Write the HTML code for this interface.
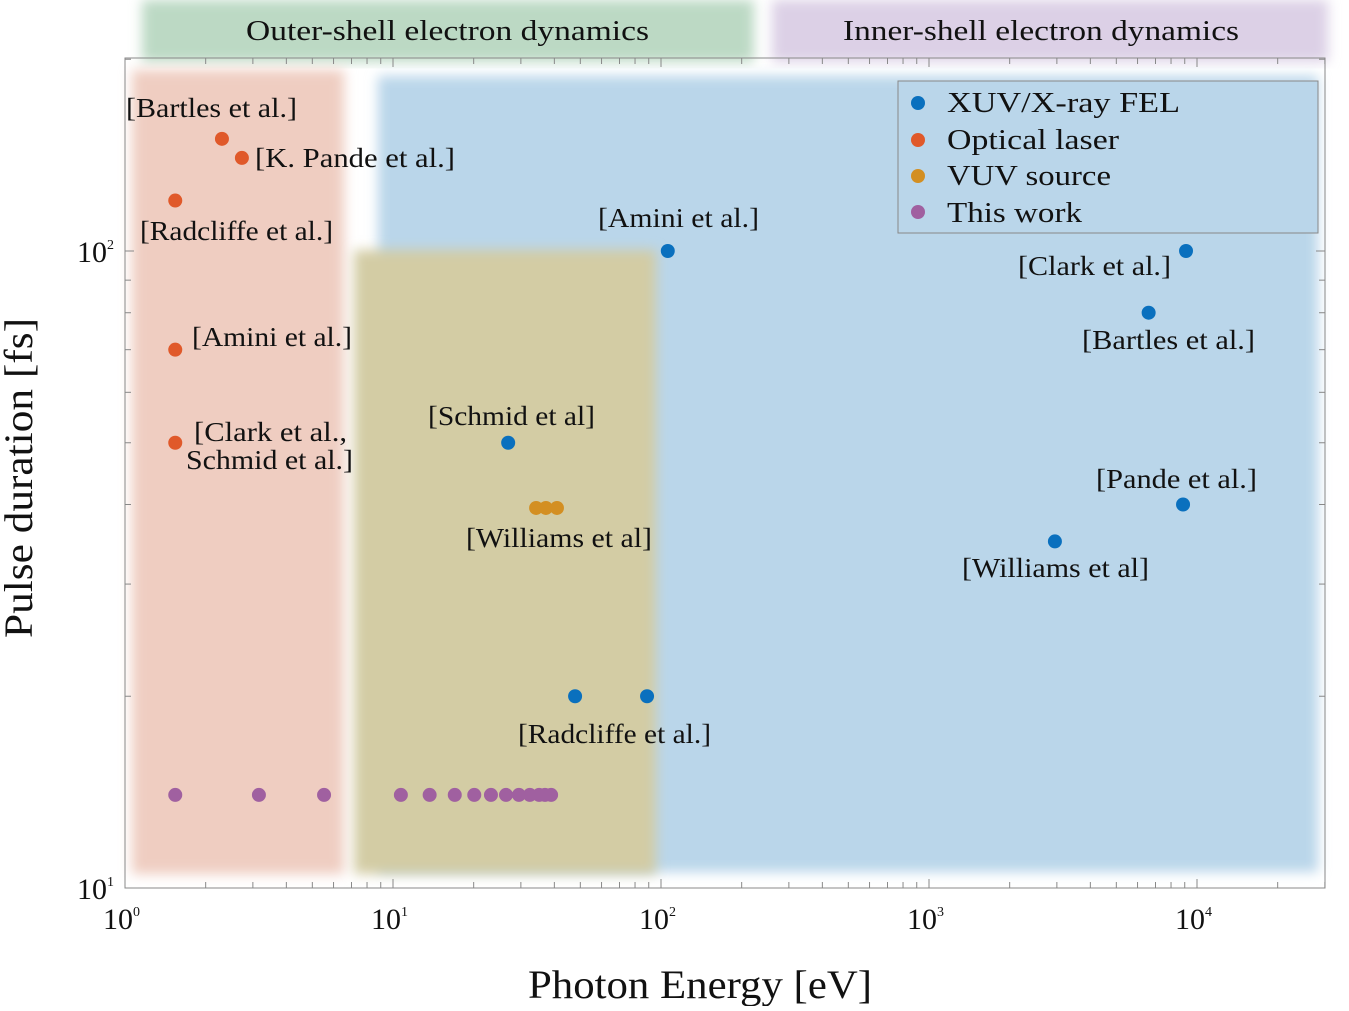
<!DOCTYPE html>
<html><head><meta charset="utf-8"><style>
body{margin:0;background:#fff;}
svg text{font-family:"Liberation Serif",serif;fill:#111;}
</style></head><body>
<svg id="chart" width="1349" height="1006" viewBox="0 0 1349 1006" xmlns="http://www.w3.org/2000/svg">
<defs>
<filter id="blur" x="-10%" y="-10%" width="120%" height="120%"><feGaussianBlur stdDeviation="6"/></filter>
</defs>
<g>
<rect x="142" y="0" width="612" height="62" fill="#bcd9c4" filter="url(#blur)"/>
<rect x="772" y="0" width="556" height="62" fill="#dcd0e6" filter="url(#blur)"/>
<text x="246" y="40" font-size="28" textLength="403" lengthAdjust="spacingAndGlyphs">Outer-shell electron dynamics</text>
<text x="843" y="40" font-size="28" textLength="396" lengthAdjust="spacingAndGlyphs">Inner-shell electron dynamics</text>
</g>
<g id="regions">
<rect x="378" y="76" width="940" height="796" fill="#bad6ea" filter="url(#blur)"/>
<rect x="132" y="70" width="212" height="804" fill="#efcdc1" filter="url(#blur)"/>
<rect x="354" y="250" width="302" height="624" fill="#d3cca4" filter="url(#blur)"/>
</g>
<rect x="125" y="58" width="1200" height="830" fill="none" stroke="#888" stroke-width="1"/>
<g id="ticks"></g>
<g id="marks"></g>
<g id="labels"></g>
<g>
<rect x="898" y="81" width="420" height="152" fill="#bad6ea" stroke="#888"/>
<circle cx="918" cy="103" r="7" fill="#0a70be"/>
<text x="947" y="112" font-size="29" textLength="233" lengthAdjust="spacingAndGlyphs">XUV/X-ray FEL</text>
<circle cx="918" cy="140" r="7" fill="#e0592a"/>
<text x="947" y="149" font-size="29" textLength="172" lengthAdjust="spacingAndGlyphs">Optical laser</text>
<circle cx="918" cy="176" r="7" fill="#d38f22"/>
<text x="947" y="185" font-size="29" textLength="164" lengthAdjust="spacingAndGlyphs">VUV source</text>
<circle cx="918" cy="212" r="7" fill="#a060a0"/>
<text x="947" y="222" font-size="29" textLength="135" lengthAdjust="spacingAndGlyphs">This work</text>
</g>
<text x="528" y="998" font-size="40" textLength="344" lengthAdjust="spacingAndGlyphs">Photon Energy [eV]</text>
<text transform="translate(32,638) rotate(-90)" font-size="40" textLength="320" lengthAdjust="spacingAndGlyphs">Pulse duration [fs]</text>
<script>
const xTickExp=[0,1,2,3,4];
const yTickExp=[1,2];
const felX=[106,26.9,9100,6600,8870,2950,47.8,88.7];
const felY=[100,50,100,80,40,35,20,20];
const optX=[2.3,2.73,1.54,1.54,1.54];
const optY=[150,140,120,70,50];
const vuvX=[34.2,37.2,40.9];
const vuvY=[39.5,39.5,39.5];
const thisX=[1.54,3.16,5.53,10.7,13.7,17.0,20.1,23.2,26.4,29.5,32.4,35.1,36.9,38.9];
const thisY=[14,14,14,14,14,14,14,14,14,14,14,14,14,14];
const NS="http://www.w3.org/2000/svg";
const X0=125,XD=268,Y0=888,YD=637;
function sx(v){return X0+Math.log10(v)*XD;}
function sy(v){return Y0-(Math.log10(v)-1)*YD;}
function mk(t,a,p){const e=document.createElementNS(NS,t);for(const k in a)e.setAttribute(k,a[k]);p.appendChild(e);return e;}
const tg=document.getElementById('ticks');
for(let d=0;d<=4;d++){for(let m=1;m<=9;m++){const v=m*Math.pow(10,d);const x=sx(v);if(x>1325)break;const L=m===1?9:6;
 const t=mk('line',{x1:x,x2:x,y1:888,y2:888-L,stroke:'#888'},tg);
 
 
 const t2=mk('line',{x1:x,x2:x,y1:58,y2:58+L,stroke:'#888'},tg);
 
 }}
for(let d=1;d<=2;d++){for(let m=1;m<=9;m++){const v=m*Math.pow(10,d);const y=sy(v);if(y<58)break;const L=m===1?9:6;
 const t=mk('line',{x1:125,x2:125+L,y1:y,y2:y,stroke:'#888'},tg);
 
 
 const t2=mk('line',{x1:1325,x2:1325-L,y1:y,y2:y,stroke:'#888'},tg);
 
 }}
function powLabel(x,y,e,anchor,name){
 const t=mk('text',{x:x,y:y,'font-size':30,'text-anchor':anchor},tg);
 
 
 const a=mk('tspan',{},t);a.textContent='10';
 const b=mk('tspan',{'font-size':14,dy:-13},t);b.textContent=String(e);
}
xTickExp.forEach(e=>powLabel(sx(Math.pow(10,e))-22,929,e,'start','x-tick-label'));
yTickExp.forEach(e=>powLabel(114,sy(Math.pow(10,e))+11,e,'end','y-tick-label'));
const mg=document.getElementById('marks');
function series(xs,ys,col,name){xs.forEach((x,i)=>{const c=mk('circle',{cx:sx(x),cy:sy(ys[i]),r:7,fill:col},mg);
 
 });}
series(optX,optY,'#e0592a','optical-point');
series(felX,felY,'#0a70be','fel-point');
series(vuvX,vuvY,'#d38f22','vuv-point');
series(thisX,thisY,'#a060a0','this-work-point');
const lab=[[126,117,'[Bartles et al.]',171],[255,167,'[K. Pande et al.]',200],[140,240,'[Radcliffe et al.]',193],
[192,346,'[Amini et al.]',160],[194,441,'[Clark et al.,',153],[186,469,'Schmid et al.]',167],
[598,227,'[Amini et al.]',161],[428,425,'[Schmid et al]',167],[466,547,'[Williams et al]',186],
[518,743,'[Radcliffe et al.]',193],[1018,275,'[Clark et al.]',153],[1082,349,'[Bartles et al.]',173],
[1096,488,'[Pande et al.]',161],[962,577,'[Williams et al]',187]];
const lg=document.getElementById('labels');
lab.forEach(l=>{const t=mk('text',{x:l[0],y:l[1],'font-size':27,textLength:l[3],lengthAdjust:'spacingAndGlyphs'},lg);t.textContent=l[2];
 
 });
</script>
</svg>
</body></html>
